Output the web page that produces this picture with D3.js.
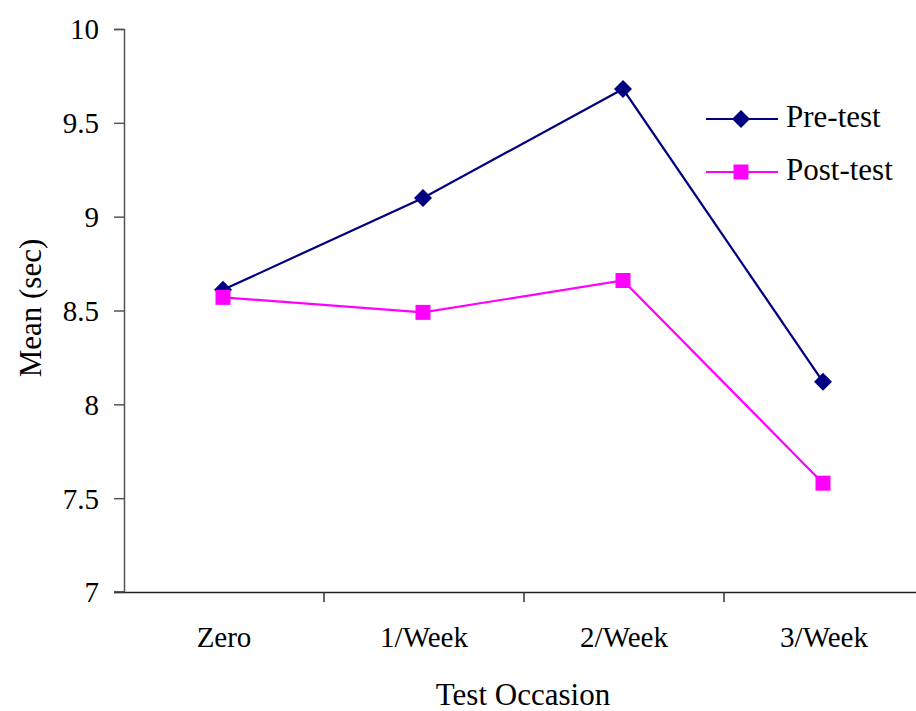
<!DOCTYPE html>
<html><head><meta charset="utf-8">
<script src="https://cdn.jsdelivr.net/npm/d3@7"></script>
<style>body{margin:0;background:#fff} text{font-family:'Liberation Serif','Times New Roman',serif}</style>
</head><body><svg id="c" width="916" height="711"></svg>
<script>
const categories = ["Zero", "1/Week", "2/Week", "3/Week"];
const preTest = [8.61, 9.10, 9.68, 8.12];
const postTest = [8.57, 8.49, 8.66, 7.58];
const yTicks = [7, 7.5, 8, 8.5, 9, 9.5, 10];
const seriesNames = ["Pre-test", "Post-test"];
const colors = ["#000080", "#FF00FF"];

const svg = d3.select("#c");
const font = "'Liberation Serif','Times New Roman',serif";
const x = d3.scaleBand().domain(categories).range([124, 924]);
const y = d3.scaleLinear().domain([7, 10]).range([592, 29]);

// y axis
const ya = svg.append("g").attr("transform", "translate(124,0)")
  .call(d3.axisLeft(y).tickValues(yTicks).tickSize(10).tickPadding(15).tickFormat(d3.format("")));
ya.attr("font-family", font).attr("font-size", 29);
ya.select(".domain").attr("stroke", "#555").attr("stroke-width", 1.5);
ya.selectAll(".tick line").attr("stroke", "#555").attr("stroke-width", 1.5);
ya.selectAll("text").attr("font-family", font).attr("font-size", 29).attr("fill", "#000").attr("dy", "0.34em");

// x axis
const xa = svg.append("g").attr("transform", "translate(0,592)")
  .call(d3.axisBottom(x).tickSize(0).tickPadding(0));
xa.attr("font-family", font).attr("font-size", 29);
xa.select(".domain").attr("stroke", "#222").attr("stroke-width", 1.5);
xa.selectAll("text").attr("font-family", font).attr("font-size", 29).attr("fill", "#000")
  .attr("dy", null).attr("y", 55);
// boundary ticks
svg.append("g").selectAll("line").data(categories.slice(1))
  .join("line")
  .attr("x1", d => x(d)).attr("x2", d => x(d))
  .attr("y1", 592).attr("y2", 602)
  .attr("stroke", "#333").attr("stroke-width", 1.5);
svg.append("line").attr("x1", 114).attr("x2", 124).attr("y1", 592).attr("y2", 592)
  .attr("stroke", "#333").attr("stroke-width", 1.5);

// axis titles
svg.append("text").attr("x", 523).attr("y", 705).attr("text-anchor", "middle")
  .attr("font-family", font).attr("font-size", 31).text("Test Occasion");
svg.append("text").attr("transform", "translate(41,308) rotate(-90)").attr("text-anchor", "middle")
  .attr("font-family", font).attr("font-size", 31).text("Mean (sec)");

const cx = d => x(d) + x.bandwidth() / 2 - 1;
const line = d3.line().x(d => cx(d.c)).y(d => y(d.v));
const data = [preTest, postTest].map(arr => arr.map((v, i) => ({c: categories[i], v})));

data.forEach((s, k) => {
  svg.append("path").datum(s).attr("d", line).attr("fill", "none")
    .attr("stroke", colors[k]).attr("stroke-width", 2.2);
});
const diamond = "M0,-9L9,0L0,9L-9,0Z";
const square = "M-7.5,-7.5H7.5V7.5H-7.5Z";
data.forEach((s, k) => {
  svg.append("g").selectAll("path").data(s).join("path")
    .attr("transform", d => `translate(${cx(d.c)},${y(d.v)})`)
    .attr("d", k === 0 ? diamond : square).attr("fill", colors[k]);
});

// legend
const lg = svg.append("g");
seriesNames.forEach((n, k) => {
  const ly = 119 + k * 53;
  lg.append("line").attr("x1", 706).attr("x2", 778).attr("y1", ly).attr("y2", ly)
    .attr("stroke", colors[k]).attr("stroke-width", 2.2);
  lg.append("path").attr("transform", `translate(741,${ly})`)
    .attr("d", k === 0 ? diamond : square).attr("fill", colors[k]);
  lg.append("text").attr("x", 786).attr("y", ly + 8).attr("font-family", font)
    .attr("font-size", 31).text(n);
});
</script></body></html>
